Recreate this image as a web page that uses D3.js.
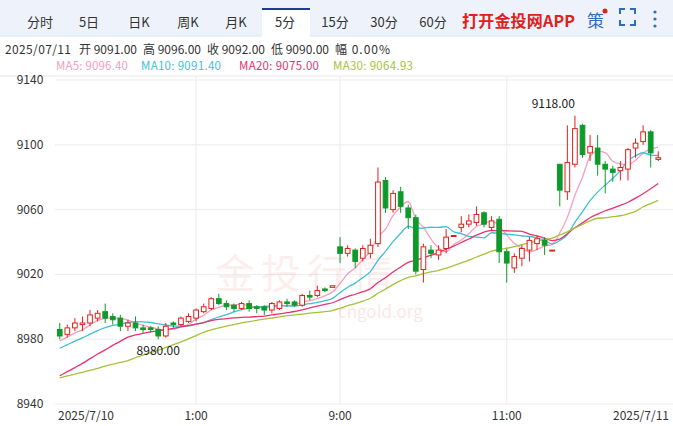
<!DOCTYPE html><html><head><meta charset="utf-8"><script src="https://d3js.org/d3.v7.min.js"></script>
<style>body{margin:0;background:#fff;font-family:"Microsoft YaHei","Noto Sans CJK SC",Arial,sans-serif}</style></head><body><svg id="c" width="673" height="426"></svg><script>
const tabs=["分时","5日","日K","周K","月K","5分","15分","30分","60分"];
const yTicks=[9140,9100,9060,9020,8980,8940];
const xLabels=[{i:0,t:"2025/7/10"},{i:18,t:"1:00"},{i:37,t:"9:00"},{i:59,t:"11:00"},{i:79,t:"2025/7/11"}];
const infoItems=["2025/07/11","开 9091.00","高 9096.00","收 9092.00","低 9090.00","幅 0.00%"];
const history=[8950,8952,8955,8958,8960,8956,8953,8955,8957,8954,8935,8937,8940,8938,8936,8939,8941,8938,8937,8939,8960,8965,8968,8970,8972,8974,8975,8978,8980,8980];
const candles=[
[8986,8990,8980,8982],[8983,8989,8981,8987],[8987,8993,8985,8990],[8989,8994,8985,8990],[8990,8998,8988,8995],[8993,8998,8991,8996],[8997,9002,8990,8993],[8994,8996,8989,8992],[8993,8995,8985,8988],[8988,8992,8985,8990],
[8990,8994,8985,8987],[8987,8989,8984,8986],[8987,8988,8984,8986],[8986,8988,8980,8982],[8982,8990,8981,8988],[8990,8991,8987,8989],[8989,8994,8988,8993],[8991,8996,8990,8994],[8993,8999,8991,8998],[8997,9002,8996,9000],
[8999,9006,8998,9005],[9005,9008,9001,9002],[9002,9004,8998,9000],[9001,9002,8997,8999],[8999,9003,8998,9002],[9002,9004,8997,8999],[9000,9001,8996,8999],[9000,9001,8995,8998],[8998,9003,8996,9002],[8999,9004,8998,9003],
[9003,9005,9000,9002],[9003,9004,9000,9001],[9001,9008,9000,9007],[9007,9010,9004,9006],[9007,9013,9006,9010],[9011,9012,9009,9010],[9012,9013,9012,9013],[9037,9043,9027,9033],[9033,9038,9031,9036],[9035,9036,9024,9028],
[9030,9038,9028,9036],[9033,9042,9030,9038],[9039,9086,9037,9077],[9078,9080,9058,9061],[9060,9072,9058,9070],[9071,9074,9058,9062],[9061,9063,9048,9055],[9055,9057,9020,9022],[9023,9039,9015,9037],[9035,9038,9030,9033],
[9032,9038,9029,9035],[9036,9048,9033,9043],[9044,9044,9044,9044],[9049,9056,9046,9051],[9051,9057,9049,9053],[9052,9062,9050,9057],[9058,9059,9049,9051],[9049,9056,9047,9053],[9054,9056,9027,9034],[9034,9036,9015,9027],
[9024,9033,9021,9031],[9030,9038,9025,9036],[9035,9043,9028,9041],[9039,9044,9035,9042],[9041,9043,9032,9038],[9035,9035,9035,9035],[9088,9088,9062,9072],[9071,9112,9066,9089],[9088,9118,9086,9110],[9112,9113,9092,9094],
[9095,9106,9090,9099],[9098,9106,9081,9088],[9088,9090,9070,9085],[9085,9087,9077,9083],[9084,9090,9078,9086],[9085,9098,9078,9097],[9098,9104,9092,9101],[9102,9112,9100,9108],[9108,9109,9086,9095],[9091,9096,9090,9092]];
const svg=d3.select("#c");
svg.append("rect").attr("x",0).attr("y",0).attr("width",673).attr("height",36).attr("fill","#eef3fb");
svg.append("line").attr("x1",0).attr("x2",673).attr("y1",36).attr("y2",36).attr("stroke","#dde4ee");
const tx=[40,89,139,188,236,285,335,384,433];
svg.append("rect").attr("x",262).attr("y",9).attr("width",48).attr("height",28).attr("fill","#fff");
svg.append("rect").attr("x",262).attr("y",8).attr("width",48).attr("height",2).attr("fill","#1f3d8a");
tabs.forEach((t,i)=>svg.append("text").attr("x",tx[i]).attr("y",27).attr("text-anchor","middle").attr("font-size",13).attr("fill","#333").text(t));
svg.append("text").attr("x",462).attr("y",27).attr("font-size",16).attr("font-weight","bold").attr("fill","#e0201b").attr("textLength",113).text("打开金投网APP");
svg.append("text").attr("x",587).attr("y",27).attr("font-size",17).attr("fill","#2f6cc0").text("策");
svg.append("circle").attr("cx",605).attr("cy",11).attr("r",2.5).attr("fill","#e0201b");
svg.append("path").attr("d","M620,14v-5h5M630,9h5v5M635,20v5h-5M625,25h-5v-5").attr("fill","none").attr("stroke","#2f6cc0").attr("stroke-width",2);
[12,19,26].forEach(y=>svg.append("circle").attr("cx",655).attr("cy",y).attr("r",1.6).attr("fill","#2f6cc0"));
const infoX=[5,79,143,207,271,335],infoW=[66,58,58,58,58,55];
infoItems.forEach((t,i)=>svg.append("text").attr("x",infoX[i]).attr("y",54).attr("font-size",12).attr("fill","#333").attr("textLength",infoW[i]).text(t));
const leg=[["MA5: 9096.40","#f3a0bf",56,72],["MA10: 9091.40","#3fbfd6",141,80],["MA20: 9075.00","#e8336e",239,80],["MA30: 9064.93","#a5c23a",333,80]];
leg.forEach(l=>svg.append("text").attr("x",l[2]).attr("y",70).attr("font-size",11.5).attr("fill",l[1]).attr("textLength",l[3]).text(l[0]));
const y=d3.scaleLinear().domain([8940,9140]).range([404,80]);
const x=d3.scaleBand().domain(d3.range(candles.length)).range([55,663]).padding(0.25);
const cx=i=>x(i)+x.bandwidth()/2;
svg.append("line").attr("x1",0).attr("x2",673).attr("y1",76).attr("y2",76).attr("stroke","#e6e6e6");
yTicks.forEach(v=>{svg.append("line").attr("x1",55).attr("x2",673).attr("y1",y(v)).attr("y2",y(v)).attr("stroke","#ececec");
 svg.append("text").attr("x",30).attr("y",y(v)+4).attr("text-anchor","middle").attr("font-size",12).attr("fill","#333").text(v);});
xLabels.forEach(l=>{ if(l.i>0&&l.i<79) svg.append("line").attr("x1",cx(l.i)).attr("x2",cx(l.i)).attr("y1",76).attr("y2",404).attr("stroke","#ececec");
 const anchor=l.i==0?"start":l.i==79?"end":"middle";
 svg.append("text").attr("x",l.i==0?58:l.i==79?669:cx(l.i)).attr("y",420).attr("text-anchor",anchor).attr("font-size",12).attr("fill","#333").text(l.t);});
svg.append("text").attr("x",215).attr("y",288).attr("font-size",40).attr("fill","#e53a2b").attr("opacity",0.08).attr("letter-spacing",6).text("金投行情");
svg.append("text").attr("x",338).attr("y",318).attr("font-size",17).attr("fill","#e53a2b").attr("opacity",0.12).text("cngold.org");
const closes=history.concat(candles.map(c=>c[3]));
const ma=n=>candles.map((c,i)=>{const j=i+history.length;return d3.mean(closes.slice(j-n+1,j+1));});
const line=d3.line().x((d,i)=>cx(i)).y(d=>y(d)).curve(d3.curveMonotoneX);
[[5,"#f3a0bf"],[10,"#3fbfd6"],[20,"#e8336e"],[30,"#a5c23a"]].forEach(m=>svg.append("path").attr("d",line(ma(m[0]))).attr("fill","none").attr("stroke",m[1]).attr("stroke-width",1.3));
const red="#e0201b",green="#0e9a2a";
candles.forEach((c,i)=>{const [o,h,l,cl]=c;const up=cl>=o;const col=up?red:green;
 const top=y(Math.max(o,cl)),bot=y(Math.min(o,cl));
 svg.append("line").attr("x1",cx(i)).attr("x2",cx(i)).attr("y1",y(h)).attr("y2",top).attr("stroke",col);
 svg.append("line").attr("x1",cx(i)).attr("x2",cx(i)).attr("y1",bot).attr("y2",y(l)).attr("stroke",col);
 svg.append("rect").attr("x",x(i)+0.5).attr("y",top).attr("width",x.bandwidth()-1).attr("height",Math.max(1,bot-top)).attr("fill",up?"#fff":green).attr("stroke",col);});
svg.append("text").attr("x",cx(68)).attr("y",y(9118)-8).attr("text-anchor","end").attr("font-size",12).attr("fill","#222").text("9118.00");
svg.append("text").attr("x",cx(13)).attr("y",y(8980)+16).attr("text-anchor","middle").attr("font-size",12).attr("fill","#222").text("8980.00");
</script></body></html>
